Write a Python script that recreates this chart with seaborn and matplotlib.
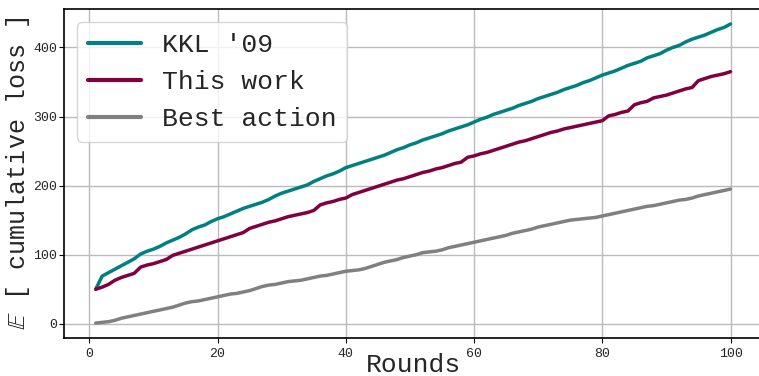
import numpy as np
import pandas as pd
import seaborn as sns
import matplotlib.pyplot as plt

# cumulative loss per round
rounds = list(range(1, 101))

kkl = [50, 69, 74, 79, 84, 89, 94, 101, 105, 108,
       112, 117, 121, 125, 130, 136, 140, 143, 148, 152,
       155, 159, 163, 167, 170, 173, 176, 180, 185, 189,
       192, 195, 198, 201, 206, 210, 214, 217, 221, 226,
       229, 232, 235, 238, 241, 244, 248, 252, 255, 259,
       262, 266, 269, 272, 275, 279, 282, 285, 288, 292,
       296, 299, 303, 306, 309, 312, 316, 319, 322, 326,
       329, 332, 335, 339, 342, 345, 349, 352, 356, 360,
       363, 366, 370, 374, 377, 380, 385, 388, 391, 396,
       400, 403, 408, 412, 415, 418, 422, 426, 429, 434]

this_work = [50, 53, 57, 63, 67, 70, 73, 82, 85, 87,
             90, 93, 99, 102, 105, 108, 111, 114, 117, 120,
             123, 126, 129, 132, 138, 141, 144, 147, 149, 152,
             155, 157, 159, 161, 164, 172, 175, 177, 180, 182,
             187, 190, 193, 196, 199, 202, 205, 208, 210, 213,
             216, 219, 221, 224, 226, 229, 232, 234, 241, 243,
             246, 248, 251, 254, 257, 260, 263, 265, 268, 271,
             274, 277, 279, 282, 284, 286, 288, 290, 292, 294,
             301, 303, 306, 308, 317, 320, 322, 327, 329, 331,
             334, 337, 340, 342, 352, 355, 358, 360, 362, 365]

best_action = [1, 2, 3, 5, 8, 10, 12, 14, 16, 18,
               20, 22, 24, 27, 30, 32, 33, 35, 37, 39,
               41, 43, 44, 46, 48, 51, 54, 56, 57, 59,
               61, 62, 63, 65, 67, 69, 70, 72, 74, 76,
               77, 78, 80, 83, 86, 89, 91, 93, 96, 98,
               100, 103, 104, 105, 107, 110, 112, 114, 116, 118,
               120, 122, 124, 126, 128, 131, 133, 135, 137, 140,
               142, 144, 146, 148, 150, 151, 152, 153, 154, 156,
               158, 160, 162, 164, 166, 168, 170, 171, 173, 175,
               177, 179, 180, 182, 185, 187, 189, 191, 193, 195]

labels = ["KKL '09", "This work", "Best action"]
colors = ["#008080", "#800040", "#808080"]

df = pd.DataFrame({
    "Rounds": rounds * 3,
    "loss": kkl + this_work + best_action,
    "method": [labels[0]] * 100 + [labels[1]] * 100 + [labels[2]] * 100,
})

sns.set_style("ticks", {"axes.grid": True, "grid.color": "#bbbbbb"})
plt.rcParams['font.family'] = ['Liberation Mono', 'DejaVu Sans Mono']
plt.rcParams['mathtext.fontset'] = 'dejavusans'

fig = plt.figure(figsize=(7.59, 3.76), dpi=100)
ax = fig.add_axes([0.0843, 0.101, 0.92, 0.875])

sns.lineplot(data=df, x="Rounds", y="loss", hue="method", palette=colors,
             linewidth=2.5, ax=ax)

ax.set_xlabel("Rounds", fontsize=19, labelpad=-4.5)
ax.set_ylabel(r"$\mathbb{E}$ [ cumulative loss ]", fontsize=18, labelpad=1)
ax.tick_params(labelsize=9.5, length=3.5, color="black")
ax.tick_params(axis="y", pad=1.5)
ax.set_xticks([0, 20, 40, 60, 80, 100])
ax.set_yticks([0, 100, 200, 300, 400])
ax.grid(True, color="#bbbbbb", linewidth=1)
for s in ["left", "bottom", "top"]:
    ax.spines[s].set_color("black")
    ax.spines[s].set_linewidth(1.2)
ax.spines["right"].set_visible(False)

leg = ax.legend(loc="upper left", fontsize=19, frameon=True, framealpha=0.8,
                handlelength=2.0, borderaxespad=0.5)
for line in leg.get_lines():
    line.set_linewidth(3)

plt.savefig("out.png", dpi=100)
